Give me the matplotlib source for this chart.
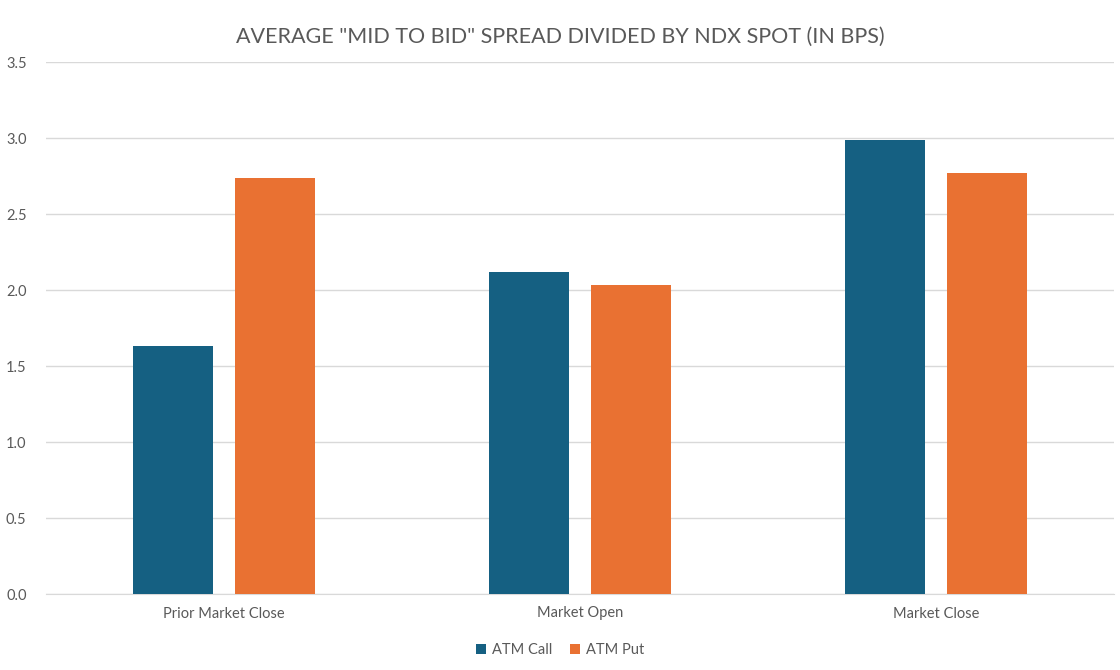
import numpy as np
import matplotlib.pyplot as plt

plt.rcParams['font.family'] = ['Lato', 'DejaVu Sans']

categories = ['Prior Market Close', 'Market Open', 'Market Close']
atm_call = [1.63, 2.12, 2.99]
atm_put = [2.74, 2.03, 2.77]
y_ticks = [0.0, 0.5, 1.0, 1.5, 2.0, 2.5, 3.0, 3.5]

call_color = '#156082'
put_color = '#E97132'
text_color = '#595959'
grid_color = '#D9D9D9'

fig = plt.figure(figsize=(11.2, 6.7), dpi=100)
ax = fig.add_axes([46 / 1120, 1 - 594 / 670, 1068 / 1120, 532 / 670])

x = np.arange(len(categories))
w = 0.225
off = 0.142
ax.bar(x - off, atm_call, width=w, color=call_color, label='ATM Call', zorder=3)
ax.bar(x + off, atm_put, width=w, color=put_color, label='ATM Put', zorder=3)

ax.set_xlim(-0.5, 2.5)
ax.set_ylim(0, 3.5)
ax.set_yticks(y_ticks)
ax.set_yticklabels([f'{v:.1f}' for v in y_ticks])
ax.set_xticks(x)
ax.set_xticklabels(categories)
ax.grid(axis='y', color=grid_color, linewidth=1, zorder=0)
for s in ['top', 'right', 'left']:
    ax.spines[s].set_visible(False)
ax.spines['bottom'].set_color(grid_color)
ax.tick_params(axis='both', length=0, colors=text_color, labelsize=10.5)
ax.tick_params(axis='y', pad=14)
ax.tick_params(axis='x', pad=9)

fig.suptitle('AVERAGE "MID TO BID" SPREAD DIVIDED BY NDX SPOT (IN BPS)',
             y=0.96, fontsize=15.5, color=text_color)

fig.legend(loc='center', bbox_to_anchor=(0.5, 1 - 650 / 670), ncol=2,
           frameon=False, fontsize=10.5, handlelength=0.7, handleheight=0.7,
           handletextpad=0.4, columnspacing=1.2, labelcolor=text_color)

fig.savefig('out.png', dpi=100)
